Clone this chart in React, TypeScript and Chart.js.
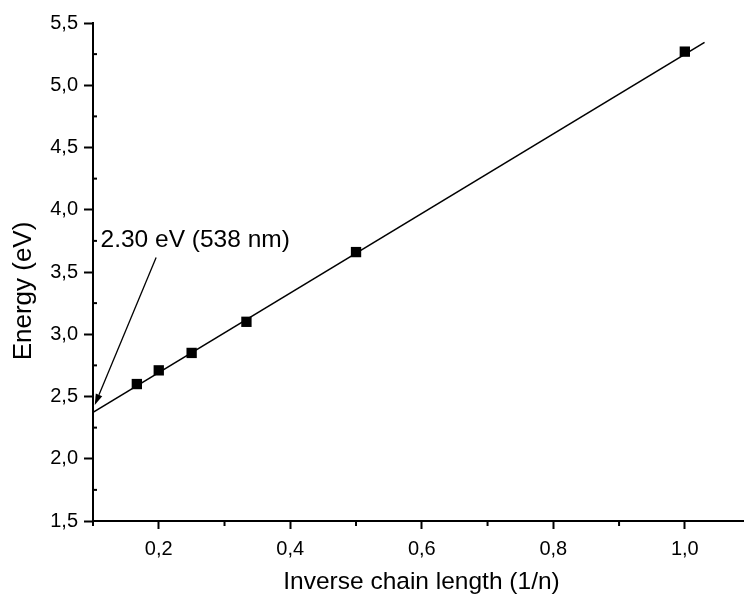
import React, { useEffect, useRef } from "react";
import { Chart, registerables } from "chart.js";

Chart.register(...registerables);

// ---- data ----
const inverseLength = [1 / 6, 0.2, 0.25, 1 / 3, 0.5, 1.0];
const energy = [2.6, 2.71, 2.85, 3.1, 3.66, 5.27];

const fitX = [0.1, 1.03];
const fitY = [2.373, 5.344];

const xMajorTicks = [0.2, 0.4, 0.6, 0.8, 1.0];
const xMinorTicks = [0.1, 0.3, 0.5, 0.7, 0.9];
const yMajorTicks = [1.5, 2.0, 2.5, 3.0, 3.5, 4.0, 4.5, 5.0, 5.5];
const yMinorTicks = [1.75, 2.25, 2.75, 3.25, 3.75, 4.25, 4.75, 5.25];

const xTitle = "Inverse chain length (1/n)";
const yTitle = "Energy (eV)";
const annotationText = "2.30 eV (538 nm)";
const annotationAnchor = { x: 0.1115, y: 3.702 };
const arrowFrom = { x: 0.196, y: 3.616 };
const arrowTo = { x: 0.1027, y: 2.432 };

const FONT = "'Liberation Sans', Arial, Helvetica, sans-serif";

const fmt = (v: number) => Number(v).toFixed(1).replace(".", ",");

const extrasPlugin = {
  id: "extras",
  afterDraw(chart: any) {
    const ctx = chart.ctx as CanvasRenderingContext2D;
    const xs = chart.scales.x;
    const ys = chart.scales.y;
    const area = chart.chartArea;
    ctx.save();
    ctx.strokeStyle = "#000";
    ctx.fillStyle = "#000";
    ctx.lineWidth = 2;
    // minor ticks
    for (const v of xMinorTicks) {
      const px = xs.getPixelForValue(v);
      ctx.beginPath();
      ctx.moveTo(px, area.bottom);
      ctx.lineTo(px, area.bottom + 5);
      ctx.stroke();
    }
    for (const v of yMinorTicks) {
      const py = ys.getPixelForValue(v);
      ctx.beginPath();
      ctx.moveTo(area.left, py);
      ctx.lineTo(area.left + 4, py);
      ctx.stroke();
    }
    // axis titles
    ctx.textAlign = "center";
    ctx.textBaseline = "middle";
    ctx.font = `24.5px ${FONT}`;
    ctx.fillText(xTitle, (area.left + area.right) / 2 + 3, 582);
    ctx.save();
    ctx.font = `26px ${FONT}`;
    ctx.translate(24, 291);
    ctx.rotate(-Math.PI / 2);
    ctx.fillText(yTitle, 0, 0);
    ctx.restore();
    // annotation text
    ctx.font = `24.5px ${FONT}`;
    ctx.textAlign = "left";
    ctx.textBaseline = "alphabetic";
    ctx.fillText(
      annotationText,
      xs.getPixelForValue(annotationAnchor.x),
      ys.getPixelForValue(annotationAnchor.y)
    );
    // arrow
    const x1 = xs.getPixelForValue(arrowFrom.x);
    const y1 = ys.getPixelForValue(arrowFrom.y);
    const x2 = xs.getPixelForValue(arrowTo.x);
    const y2 = ys.getPixelForValue(arrowTo.y);
    const ang = Math.atan2(y2 - y1, x2 - x1);
    const headLen = 11;
    const headHalf = 3.5;
    const bx = x2 - headLen * Math.cos(ang);
    const by = y2 - headLen * Math.sin(ang);
    ctx.lineWidth = 1.3;
    ctx.beginPath();
    ctx.moveTo(x1, y1);
    ctx.lineTo(bx, by);
    ctx.stroke();
    ctx.beginPath();
    ctx.moveTo(x2, y2);
    ctx.lineTo(bx + headHalf * Math.sin(ang), by - headHalf * Math.cos(ang));
    ctx.lineTo(bx - headHalf * Math.sin(ang), by + headHalf * Math.cos(ang));
    ctx.closePath();
    ctx.fill();
    ctx.restore();
  },
};

export default function App() {
  const canvasRef = useRef<HTMLCanvasElement | null>(null);

  useEffect(() => {
    document.body.style.margin = "0";
    const canvas = canvasRef.current;
    if (!canvas) return;
    const chart = new Chart(canvas, {
      type: "scatter",
      data: {
        datasets: [
          {
            label: "points",
            data: inverseLength.map((x, i) => ({ x, y: energy[i] })),
            pointStyle: "rect",
            pointRadius: 7.3,
            pointBackgroundColor: "#000",
            pointBorderWidth: 0,
            showLine: false,
            clip: false,
          },
          {
            label: "fit",
            data: fitX.map((x, i) => ({ x, y: fitY[i] })),
            showLine: true,
            borderColor: "#000",
            borderWidth: 1.6,
            pointRadius: 0,
          },
        ],
      },
      options: {
        animation: false,
        responsive: false,
        layout: { autoPadding: false, padding: { top: 23, right: 0, left: 0, bottom: 0 } },
        plugins: {
          legend: { display: false },
          tooltip: { enabled: false },
        },
        scales: {
          x: {
            type: "linear",
            min: 0.1,
            max: 1.09,
            afterBuildTicks: (s: any) => {
              s.ticks = xMajorTicks.map((v) => ({ value: v }));
            },
            afterFit: (s: any) => {
              s.height = 76;
              s.paddingLeft = 0;
              s.paddingRight = 0;
            },
            ticks: {
              callback: (v: any) => fmt(v),
              font: { family: FONT, size: 20 },
              color: "#000",
              padding: 8,
              maxRotation: 0,
              autoSkip: false,
            },
            grid: {
              display: true,
              drawOnChartArea: false,
              drawTicks: true,
              tickLength: 8,
              tickWidth: 2,
              tickColor: "#000",
              color: "#000",
            },
            border: { display: true, color: "#000", width: 2 },
          },
          y: {
            type: "linear",
            min: 1.5,
            max: 5.5,
            afterBuildTicks: (s: any) => {
              s.ticks = yMajorTicks.map((v) => ({ value: v }));
            },
            afterFit: (s: any) => {
              s.width = 93;
              s.paddingTop = 0;
              s.paddingBottom = 0;
            },
            ticks: {
              callback: (v: any) => fmt(v),
              font: { family: FONT, size: 20 },
              color: "#000",
              padding: 6,
              autoSkip: false,
            },
            grid: {
              display: true,
              drawOnChartArea: false,
              drawTicks: true,
              tickLength: 9,
              tickWidth: 2,
              tickColor: "#000",
              color: "#000",
            },
            border: { display: true, color: "#000", width: 2 },
          },
        },
      },
      plugins: [extrasPlugin],
    } as any);
    return () => chart.destroy();
  }, []);

  return (
    <div style={{ position: "absolute", left: 0, top: 0, width: 744, height: 597 }}>
      <canvas ref={canvasRef} width={744} height={597} style={{ width: 744, height: 597 }} />
    </div>
  );
}
